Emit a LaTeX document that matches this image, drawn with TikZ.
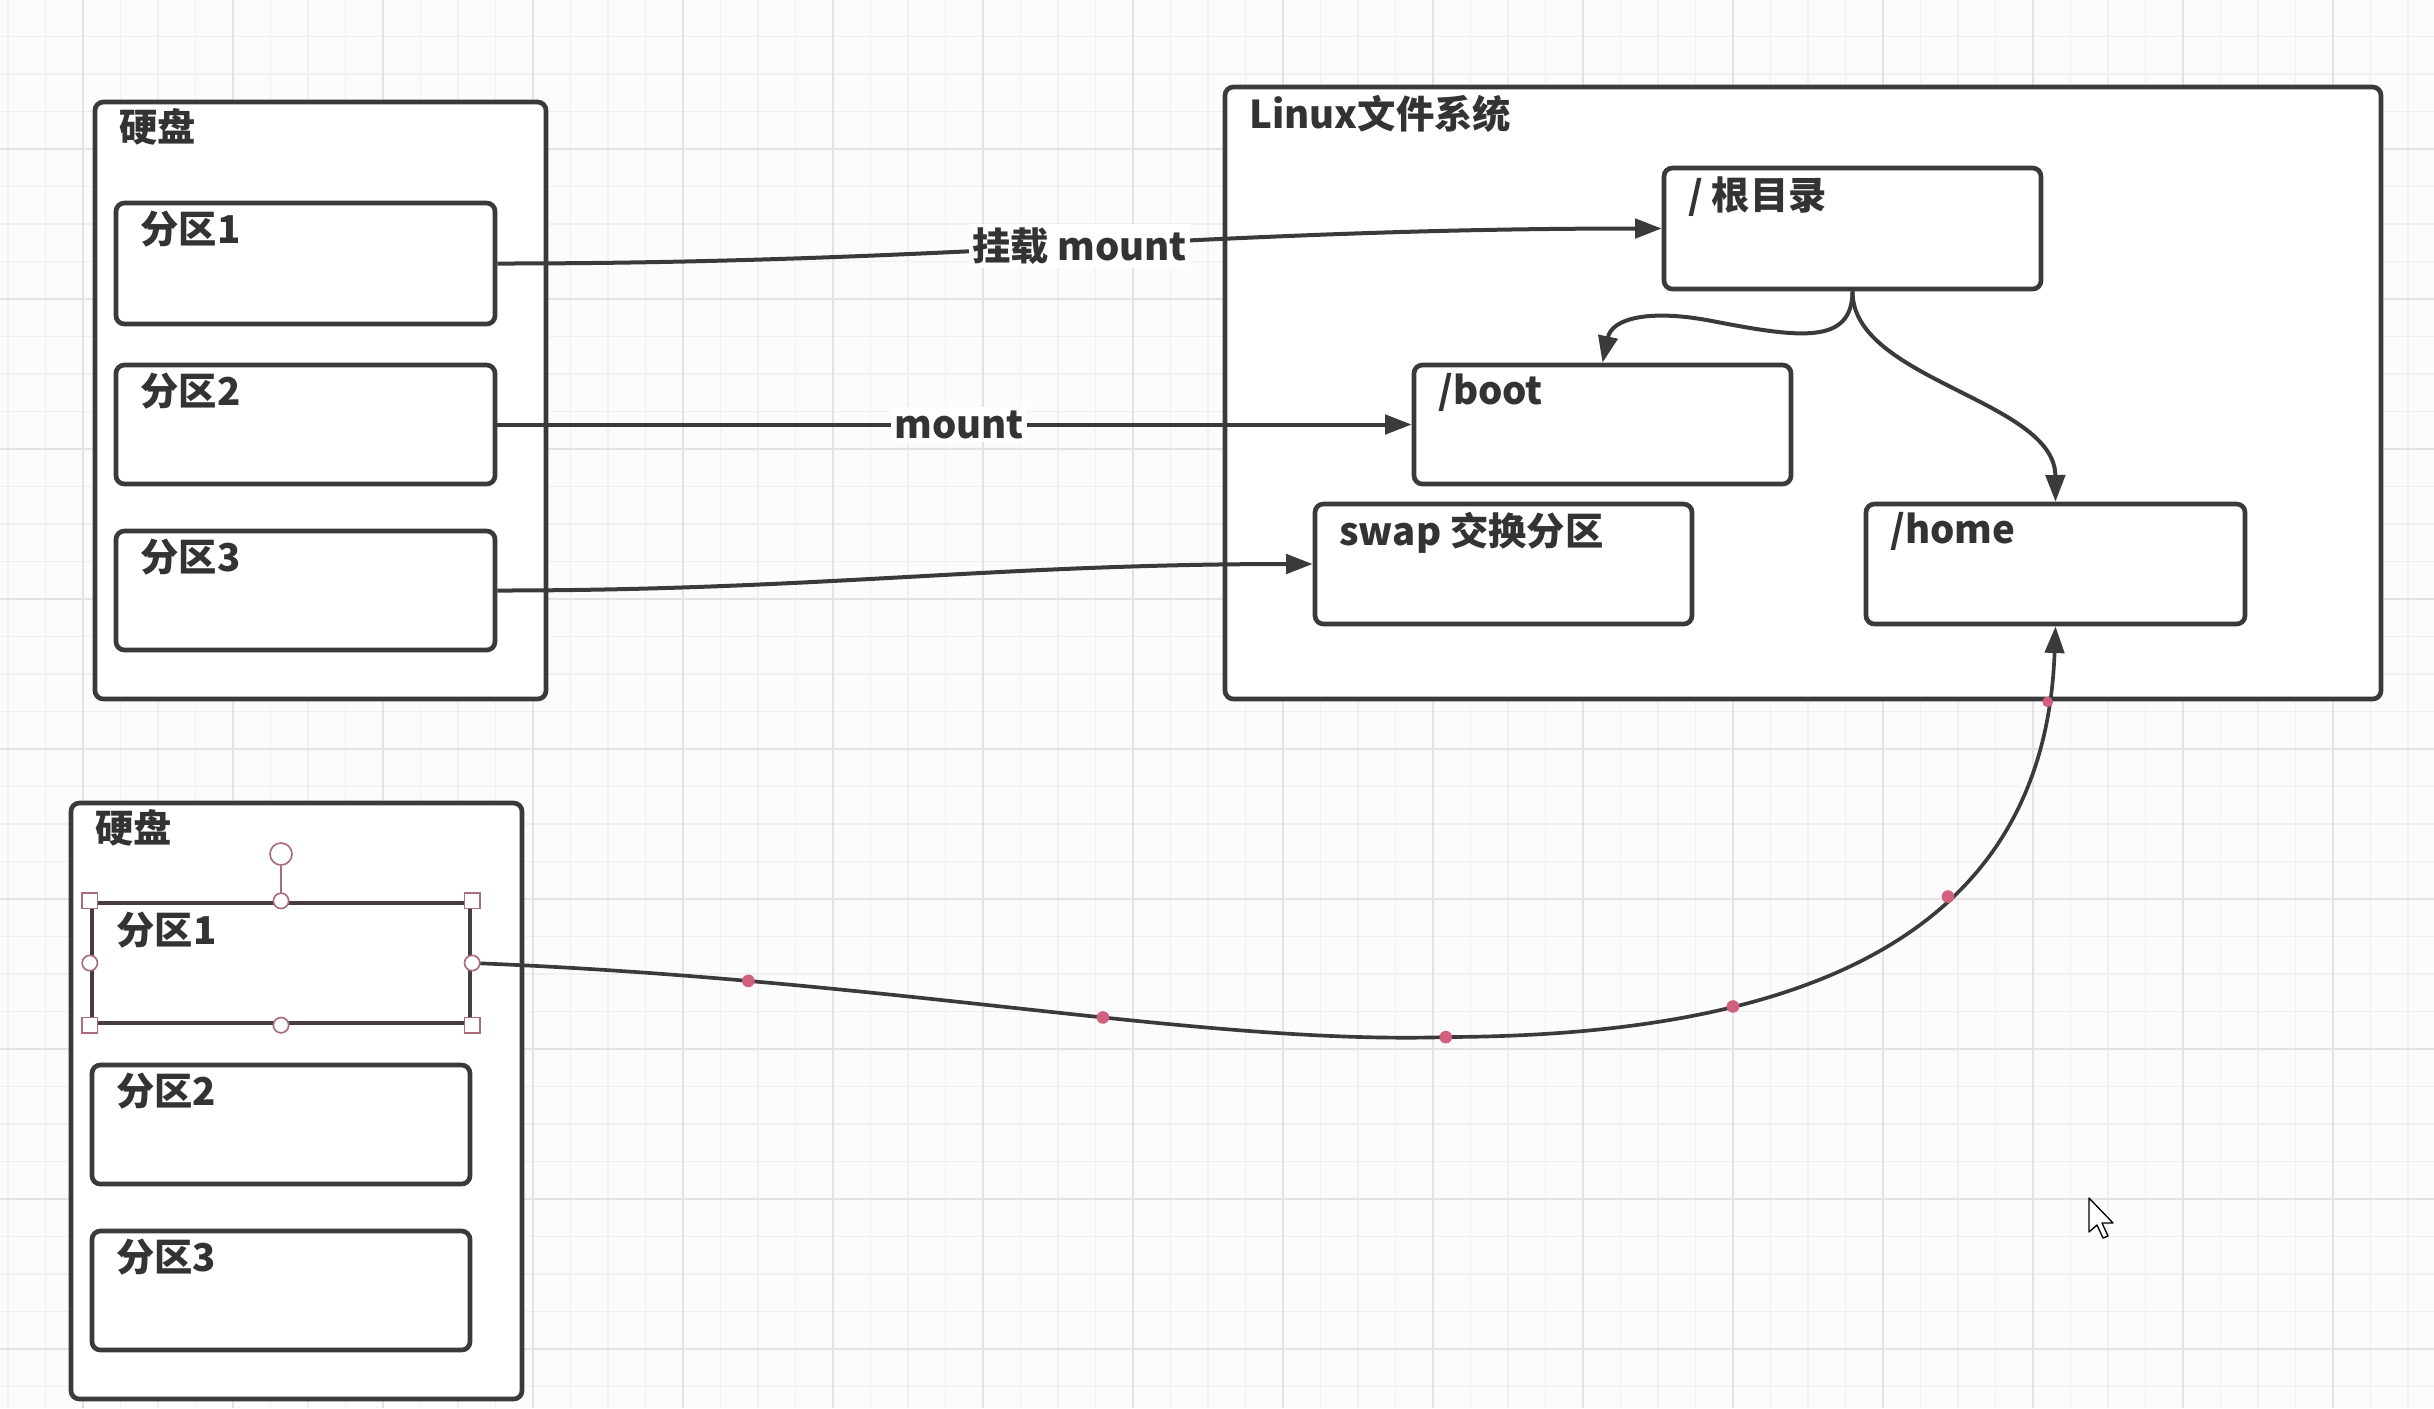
\documentclass[tikz,border=0pt]{standalone}
\usepackage{fontspec}
\setmainfont{Noto Sans CJK SC}
\usetikzlibrary{arrows.meta,fit,decorations.markings}
\definecolor{ink}{HTML}{3A3A3A}
\definecolor{txt}{HTML}{333333}
\definecolor{gminor}{HTML}{F0F0F0}
\definecolor{gmajor}{HTML}{E3E3E3}
\definecolor{dotc}{HTML}{D0607E}
\definecolor{hdl}{HTML}{A86C7C}
\definecolor{selb}{HTML}{4A3A42}
\begin{document}
\begin{tikzpicture}[x=0.3pt,y=-0.3pt,
  box/.style={draw=ink, line width=1.4pt, rounded corners=2.5pt, fill=white, inner sep=0pt},
  selbox/.style={draw=selb, line width=1.3pt, fill=white, inner sep=0pt},
  lbl/.style={anchor=north west, inner sep=0pt, text=txt, font=\fontsize{11.5pt}{13pt}\selectfont\bfseries},
  conn/.style={draw=ink, line width=1.2pt, -{Triangle[length=8pt,width=5.8pt]}},
  elbl/.style={fill=white, inner sep=1pt, text=txt, font=\fontsize{11.5pt}{13pt}\selectfont\bfseries},
  hsq/.style={draw=hdl, fill=white, line width=0.5pt, minimum size=4.6pt, inner sep=0pt},
  hcir/.style={draw=hdl, fill=white, line width=0.5pt, circle, minimum size=4.6pt, inner sep=0pt},
  gmin/.style={draw=gminor, line width=0.4pt},
  gmaj/.style={draw=gmajor, line width=0.6pt},
  pdot/.style={fill=dotc}
]
\useasboundingbox (0,0) rectangle (2434,1408);
\fill[white!99!black] (0,0) rectangle (2434,1408);
% grid
\foreach \i in {0,...,64} { \draw[gmin] ({8+37.5*\i},0) -- ({8+37.5*\i},1408); }
\foreach \i in {0,...,38} { \draw[gmin] (0,{-1+37.5*\i}) -- (2434,{-1+37.5*\i}); }
\foreach \i in {0,...,15} { \draw[gmaj] ({83+150*\i},0) -- ({83+150*\i},1408); }
\foreach \i in {1,...,9} { \draw[gmaj] (0,{-1+150*\i}) -- (2434,{-1+150*\i}); }

% top disk
\node[box, fit={(95,102) (546,699)}] (disk1) {};
\node[lbl] (disk1t) at ([shift={(26,8)}]disk1.north west) {硬盘};
\node[box, fit={(116,203) (495,324)}] (p1) {};
\node[lbl] (p1t) at ([shift={(26,10)}]p1.north west) {分区1};
\node[box, fit={(116,365) (495,484)}] (p2) {};
\node[lbl] (p2t) at ([shift={(26,10)}]p2.north west) {分区2};
\node[box, fit={(116,531) (495,650)}] (p3) {};
\node[lbl] (p3t) at ([shift={(26,10)}]p3.north west) {分区3};

% linux fs
\node[box, fit={(1225,87) (2381,699)}] (fs) {};
\node[lbl] (fst) at ([shift={(26,10)}]fs.north west) {Linux文件系统};
\node[box, fit={(1664,168) (2041,289)}] (root) {};
\node[lbl] (roott) at ([shift={(26,10)}]root.north west) {/ 根目录};
\node[box, fit={(1414,365) (1791,484)}] (boot) {};
\node[lbl] (boott) at ([shift={(26,10)}]boot.north west) {/boot};
\node[box, fit={(1315,504) (1692,624)}] (swap) {};
\node[lbl] (swapt) at ([shift={(26,10)}]swap.north west) {swap 交换分区};
\node[box, fit={(1866,504) (2245,624)}] (home) {};
\node[lbl] (homet) at ([shift={(26,10)}]home.north west) {/home};

% bottom disk
\node[box, fit={(71,803) (522,1399)}] (disk2) {};
\node[lbl] (disk2t) at ([shift={(26,8)}]disk2.north west) {硬盘};
\node[selbox, fit={(92,903) (470,1023)}] (bp1) {};
\node[lbl] (bp1t) at ([shift={(26,10)}]bp1.north west) {分区1};
\node[box, fit={(92,1065) (470,1184)}] (bp2) {};
\node[lbl] (bp2t) at ([shift={(26,10)}]bp2.north west) {分区2};
\node[box, fit={(92,1231) (470,1350)}] (bp3) {};
\node[lbl] (bp3t) at ([shift={(26,10)}]bp3.north west) {分区3};

% connectors
\draw[conn] (p1.east) to[out=0,in=180] node[elbl] (l1) {挂载 mount} (root.west);
\draw[conn] (p2.east) -- node[elbl, pos=0.505] (l2) {mount} (boot.west);
\draw[conn] (p3.east) to[out=0,in=180] (swap.west);
\coordinate (w1) at (1712,321);
\draw[conn] (root.south) .. controls (1852,345) and (1800,338) .. (w1)
  .. controls (1650,309) and (1612,318) .. (boot.north);
\draw[conn] (root.south) .. controls (1852,380) and (2055,400) .. (home.north);

\coordinate (m1) at (1450,1037);
\draw[conn, line width=1.1pt,
  decoration={markings,
    mark=at position 0.153 with {\fill[pdot] (0,0) circle (1.9pt);},
    mark=at position 0.35 with {\fill[pdot] (0,0) circle (1.9pt);},
    mark=at position 0.54 with {\fill[pdot] (0,0) circle (1.9pt);},
    mark=at position 0.70 with {\fill[pdot] (0,0) circle (1.9pt);},
    mark=at position 0.835 with {\fill[pdot] (0,0) circle (1.9pt);},
    mark=at position 0.958 with {\fill[pdot] (0,0) circle (1.6pt);}},
  postaction={decorate}]
  (bp1.east) .. controls (900,980) and (1200,1045) .. (m1)
  .. controls (1830,1035) and (2045,920) .. (home.south);

% selection handles
\node[hcir, minimum size=6.6pt] (rot) at (281,854) {};
\draw[draw=hdl, line width=0.5pt] (rot) -- (bp1.north);
\node[hsq] (h1) at (bp1.north west) {};
\node[hsq] (h2) at (bp1.north east) {};
\node[hsq] (h3) at (bp1.south west) {};
\node[hsq] (h4) at (bp1.south east) {};
\node[hcir] (h5) at (bp1.north) {};
\node[hcir] (h6) at (bp1.south) {};
\node[hcir] (h7) at (bp1.west) {};
\node[hcir] (h8) at (bp1.east) {};

% mouse cursor
\draw[fill=white, draw=black, line width=0.4pt, line join=round]
  (2089,1198) -- (2089,1232) -- (2097,1225) -- (2103,1238) -- (2108,1236) -- (2102,1223) -- (2113,1223) -- cycle;
\end{tikzpicture}
\end{document}
